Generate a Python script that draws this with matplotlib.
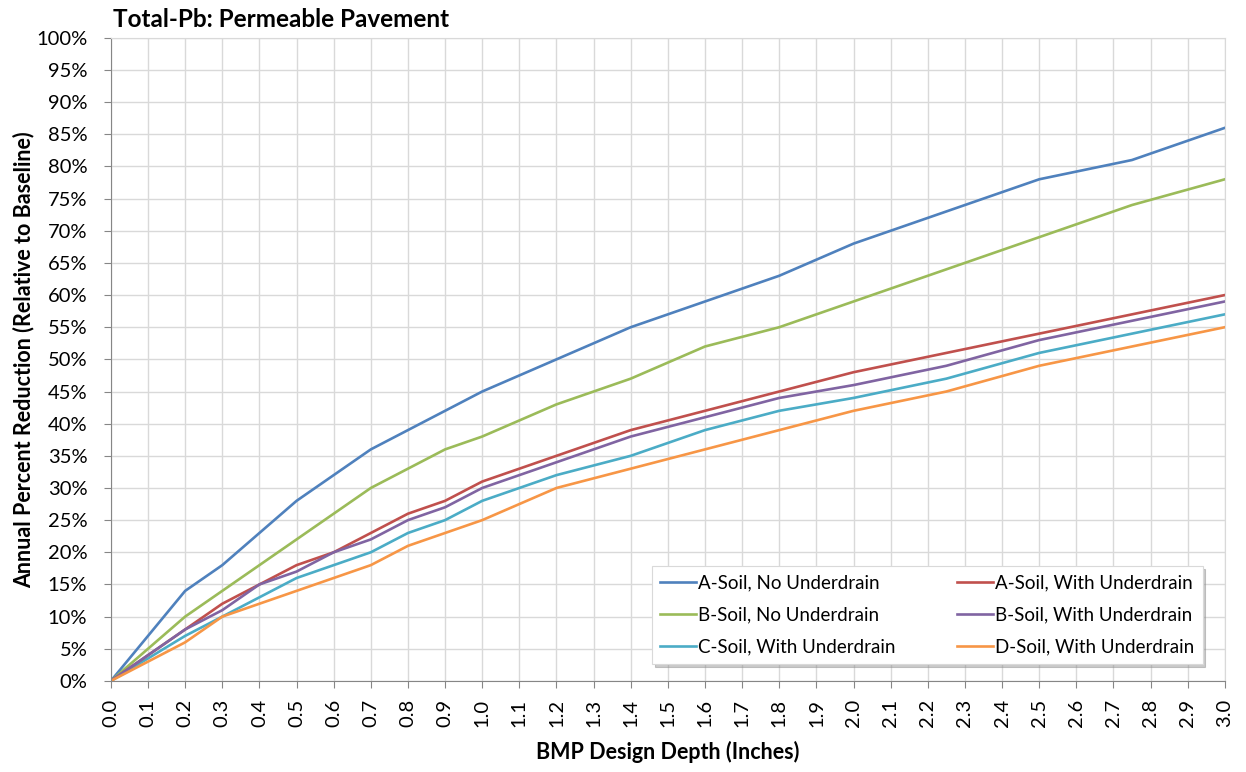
import numpy as np
import matplotlib.pyplot as plt
from matplotlib.ticker import MultipleLocator, FuncFormatter

plt.rcParams['font.family'] = ['Lato', 'DejaVu Sans']

# design depth (inches) and percent reduction for each soil / drain case
depth = [0.0, 0.2, 0.3, 0.4, 0.5, 0.6, 0.7, 0.8, 0.9, 1.0,
         1.2, 1.4, 1.6, 1.8, 2.0, 2.25, 2.5, 2.75, 3.0]
a_no_ud = [0, 14, 18, 23, 28, 32, 36, 39, 42, 45, 50, 55, 59, 63, 68, 73, 78, 81, 86]
b_no_ud = [0, 10, 14, 18, 22, 26, 30, 33, 36, 38, 43, 47, 52, 55, 59, 64, 69, 74, 78]
c_ud = [0, 7, 10, 13, 16, 18, 20, 23, 25, 28, 32, 35, 39, 42, 44, 47, 51, 54, 57]
a_ud = [0, 8, 12, 15, 18, 20, 23, 26, 28, 31, 35, 39, 42, 45, 48, 51, 54, 57, 60]
b_ud = [0, 8, 11, 15, 17, 20, 22, 25, 27, 30, 34, 38, 41, 44, 46, 49, 53, 56, 59]
d_ud = [0, 6, 10, 12, 14, 16, 18, 21, 23, 25, 30, 33, 36, 39, 42, 45, 49, 52, 55]

series = [
    ("A-Soil, No Underdrain", a_no_ud, "#4F81BD"),
    ("B-Soil, No Underdrain", b_no_ud, "#9BBB59"),
    ("C-Soil, With Underdrain", c_ud, "#4BACC6"),
    ("A-Soil, With Underdrain", a_ud, "#C0504D"),
    ("B-Soil, With Underdrain", b_ud, "#8064A2"),
    ("D-Soil, With Underdrain", d_ud, "#F79646"),
]

fig = plt.figure(figsize=(12.46, 7.72), dpi=100)
ax = fig.add_axes([0.089, 0.118, 0.894, 0.833])

for name, vals, col in series:
    ax.plot(depth, np.array(vals) / 100.0, color=col, lw=1.9, label=name)

ax.set_xlim(0, 3.0)
ax.set_ylim(0, 1.0)
ax.xaxis.set_major_locator(MultipleLocator(0.1))
ax.yaxis.set_major_locator(MultipleLocator(0.05))
ax.xaxis.set_major_formatter(FuncFormatter(lambda v, p: "%.1f" % v))
ax.yaxis.set_major_formatter(FuncFormatter(lambda v, p: "%d%%" % round(v * 100)))
ax.grid(True, color="#D9D9D9", lw=1.0)
ax.set_axisbelow(True)

for s in ["left", "bottom"]:
    ax.spines[s].set_color("#868686")
for s in ["top", "right"]:
    ax.spines[s].set_color("#D9D9D9")

ax.tick_params(axis="x", labelrotation=90, labelsize=14.5, color="#868686",
               length=5, pad=8)
ax.tick_params(axis="y", labelsize=14.5, color="#868686", length=5, pad=12)

ax.set_xlabel("BMP Design Depth (Inches)", fontsize=15.5, fontweight="bold", labelpad=10)
ax.set_ylabel("Annual Percent Reduction (Relative to Baseline)", fontsize=15.5,
              fontweight="bold", labelpad=1)
ax.set_title("Total-Pb: Permeable Pavement", fontsize=17.5, fontweight="bold",
             loc="left", x=0.002, pad=8)

leg = ax.legend(loc="lower right", bbox_to_anchor=(0.980, 0.026), ncol=2,
                fontsize=13.5, frameon=True, fancybox=False,
                shadow={"color": "0.55", "alpha": 0.45},
                handlelength=1.9, handletextpad=0.1, columnspacing=3.3,
                labelspacing=0.8, borderpad=0.45, borderaxespad=0)
leg.get_frame().set_edgecolor("#D9D9D9")
leg.get_frame().set_linewidth(0.8)

fig.savefig("out.png", dpi=100)
